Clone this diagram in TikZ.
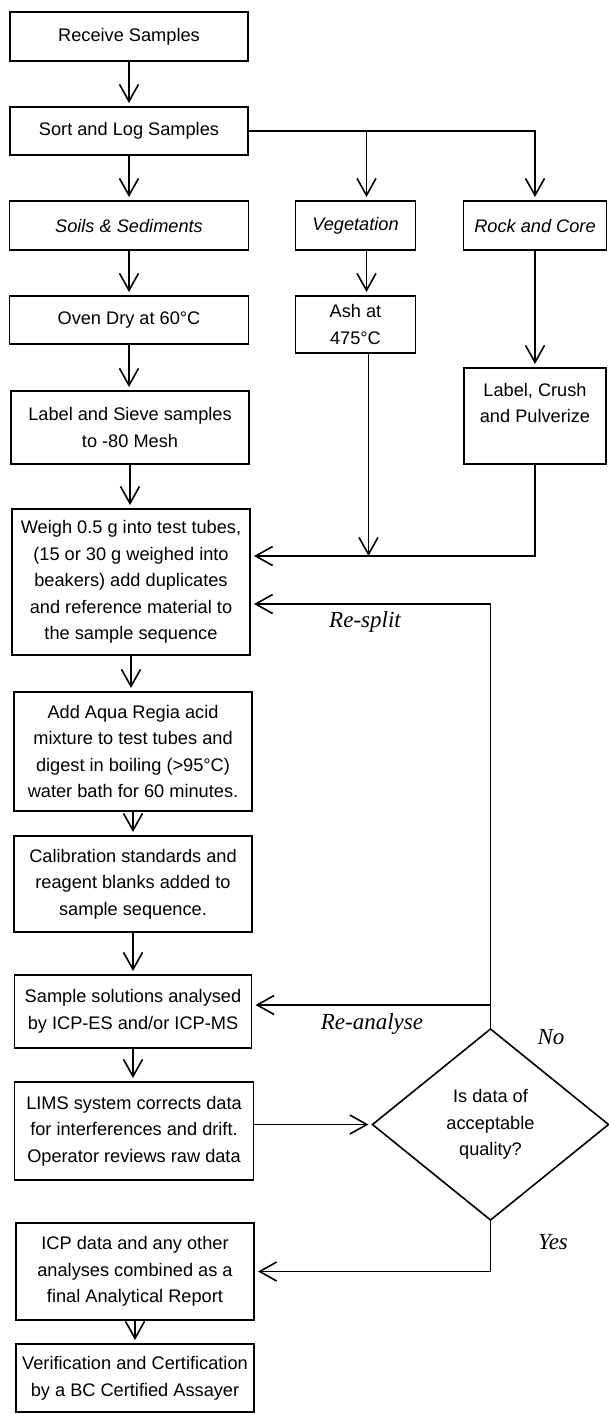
\documentclass[tikz,border=0pt]{standalone}
\usepackage{fontspec}
\setmainfont{Liberation Sans}
\newfontfamily\notefont{Liberation Serif}
\newcommand{\boxfont}{\fontsize{9.1pt}{13.3pt}\selectfont}
\usepackage{tikz}
\usetikzlibrary{arrows.meta, positioning, shapes.geometric, calc}

\begin{document}
\begin{tikzpicture}[
    x=0.5pt, y=-0.5pt,
    block/.style={rectangle, draw, line width=0.8pt, outer sep=0pt, align=center, inner sep=2pt, minimum width=119pt, font=\boxfont},
    arrow/.style={-{Straight Barb[length=8.5pt,width=9.5pt]}, line width=0.8pt, shorten >=2pt},
    decision/.style={diamond, draw, line width=0.8pt, outer sep=0pt, align=center, inner sep=0pt, minimum width=118pt, minimum height=95.5pt, font=\boxfont},
    note/.style={font=\notefont\itshape\fontsize{11.5pt}{13pt}\selectfont}
]
\useasboundingbox (0,0) rectangle (609,1414);

% main column
\node[block, minimum height=24.5pt] (recv) at (129,36.5) {Receive Samples};
\node[block, minimum height=24pt, below=23pt of recv] (sort) {Sort and Log Samples};
\node[block, minimum width=119.5pt, minimum height=24.5pt, below=23pt of sort] (soils) {\itshape Soils \& Sediments};
\node[block, minimum width=60pt, minimum height=24.5pt, right=23.5pt of soils] (veg) {\itshape Vegetation};
\node[block, minimum width=71.5pt, minimum height=24.5pt, right=24pt of veg] (rock) {\itshape Rock and Core};
\node[block, minimum width=119.5pt, minimum height=24pt, below=23pt of soils] (oven) {Oven Dry at 60°C};
\node[block, minimum width=60pt, minimum height=28.5pt, below=23pt of veg] (ash) {Ash at\\475°C};
\node[block, minimum width=71pt, minimum height=48pt, below=59pt of rock] (crush) {Label, Crush\\and Pulverize\\\mbox{}};
\node[block, minimum height=36.5pt, below=23.5pt of oven, xshift=0.5pt] (sieve) {Label and Sieve samples\\to -80 Mesh};
\node[block, minimum height=73pt, below=22.5pt of sieve, xshift=0.5pt] (weigh) {Weigh 0.5 g into test tubes,\\(15 or 30 g weighed into\\beakers) add duplicates\\and reference material to\\the sample sequence};
\node[block, minimum height=59.5pt, below=18.5pt of weigh, xshift=1pt] (aqua) {Add Aqua Regia acid\\mixture to test tubes and\\digest in boiling (>95°C)\\water bath for 60 minutes.};
\node[block, minimum height=48pt, below=12.5pt of aqua] (calib) {Calibration standards and\\reagent blanks added to\\sample sequence.};
\node[block, minimum width=118.5pt, minimum height=36.5pt, below=21.5pt of calib] (sample) {Sample solutions analysed\\by ICP-ES and/or ICP-MS};
\node[block, minimum width=119.5pt, minimum height=49pt, below=17pt of sample, xshift=0.5pt] (lims) {LIMS system corrects data\\for interferences and drift.\\Operator reviews raw data};
\node[block, minimum height=48.5pt, below=21.5pt of lims, xshift=0.5pt] (icp) {ICP data and any other\\analyses combined as a\\final Analytical Report};
\node[block, minimum height=34pt, below=12pt of icp] (verif) {Verification and Certification\\by a BC Certified Assayer};
\node[decision, right=59.5pt of lims, yshift=3.25pt] (dq) {Is data of\\acceptable\\quality?};

% helper points
\coordinate (vtop) at ([xshift=5.5pt]veg.north);
\coordinate (vbot) at ([xshift=6.5pt]ash.south);
\coordinate (feed) at ([yshift=-23.5pt]weigh.north east);
\coordinate (resplit) at ([yshift=-47.5pt]weigh.north east);
\coordinate (reana) at ([yshift=-15pt]sample.north east);

\draw[arrow] (recv) -- (recv |- sort.north);
\draw[arrow] (sort) -- (sort |- soils.north);
\draw[arrow] (sort.east) -| (rock.north);
\draw[arrow] (sort.east -| vtop) -- (vtop);
\draw[arrow] (soils) -- (soils |- oven.north);
\draw[arrow] (veg.south -| vtop) -- (ash.north -| vtop);
\draw[arrow] (rock) -- (rock |- crush.north);
\draw[arrow] (oven) -- (oven.south |- sieve.north);
\draw[arrow] (sieve) -- (sieve.south |- weigh.north);
\draw[arrow, shorten >=0pt] (vbot) -- (vbot |- feed);
\draw[arrow] (crush) |- (feed);
\draw[arrow] (weigh) -- (weigh.south |- aqua.north);
\draw[arrow] (aqua) -- (aqua.south |- calib.north);
\draw[arrow] (calib) -- (calib.south |- sample.north);
\draw[arrow] (sample) -- (sample.south |- lims.north);
\draw[arrow] (lims.east |- dq) -- (dq.west);
\draw[arrow] (dq.north) |- (resplit);
\draw[arrow] (dq.north |- reana) -- (reana);
\draw[arrow] (dq.south) |- (icp.east);
\draw[arrow] (icp) -- (icp.south |- verif.north);

\node[note] (splitlbl) at (365,622) {Re-split};
\node[note] (analbl) at (372,1024) {Re-analyse};
\node[note] (nolbl) at (551,1037) {No};
\node[note] (yeslbl) at (553,1242) {Yes};
\end{tikzpicture}
\end{document}
